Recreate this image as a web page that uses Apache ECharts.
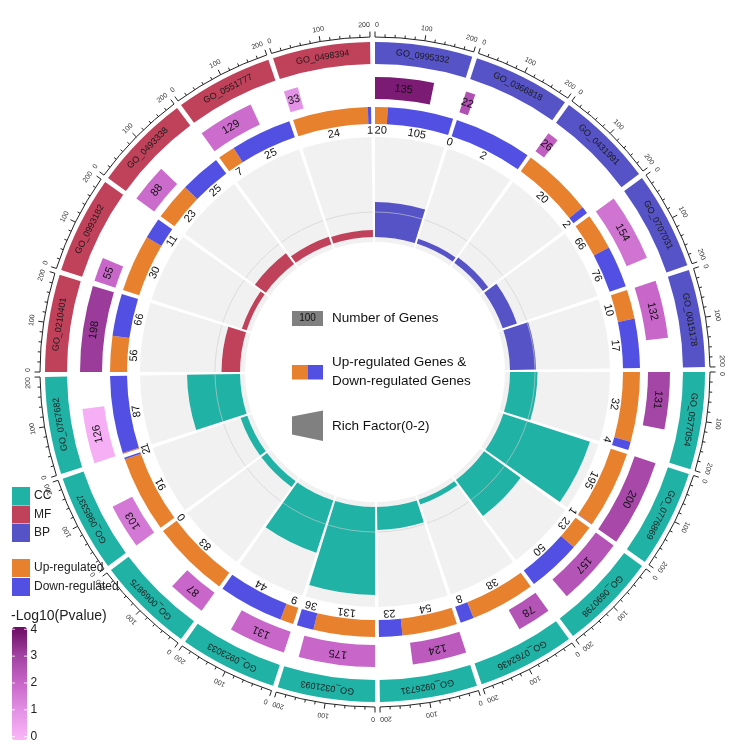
<!DOCTYPE html>
<html><head><meta charset="utf-8">
<script src="https://cdn.jsdelivr.net/npm/echarts@6/dist/echarts.min.js"></script>
<style>html,body{margin:0;padding:0;background:#fff}#c{width:750px;height:753px}</style>
</head><body><div id="c"></div>
<script>
// ---------------- data ----------------
const goTerms = ['GO_0995332','GO_0366818','GO_0431991','GO_0707031','GO_0015178',
  'GO_0577054','GO_0776869','GO_0690798','GO_0762436','GO_0926731','GO_0321093',
  'GO_0923033','GO_0069875','GO_0985337','GO_0767682',
  'GO_0210401','GO_0993182','GO_0493338','GO_0551777','GO_0498394'];
const termClass = ['BP','BP','BP','BP','BP','CC','CC','CC','CC','CC','CC','CC','CC','CC','CC','MF','MF','MF','MF','MF'];
const geneCounts = [135,22,26,154,132,131,200,157,78,124,175,131,87,103,126,198,55,88,129,33];
const negLog10P = [3.7,2.6,2.2,1.7,2.0,2.9,2.8,2.5,2.5,2.3,2.0,2.0,2.0,1.6,0.2,3.1,2.0,1.9,1.85,1.0];
const upGenes = [20,0,20,66,10,32,195,23,38,54,131,9,83,91,1,56,30,23,7,24];
const downGenes = [105,2,2,76,17,4,1,50,8,23,36,44,0,2,87,66,11,25,25,1];
const richFactor = [0.70,0.10,0.13,0.30,0.52,0.55,1.82,0.90,0.10,0.46,1.76,1.10,0.14,0.14,1.06,0.37,0.10,0.27,0.16,0.14];
const sectorTicks = [0,20,40,60,80,100,120,140,160,180,200];
const sectorTickLabels = [0,100,200];
const colorbarTicks = [0,1,2,3,4];
const classLegend = ['CC','MF','BP'];
const regLegend = ['Up-regulated','Down-regulated'];

// ---------------- style / layout ----------------
const FONT = '"Liberation Sans", Arial, sans-serif';
const CX = 375, CY = 372, SEG = 210, SPAN = 200;
const classColor = {CC:'#21b2a6', MF:'#c0415a', BP:'#5553c6'};
const UP_COLOR = '#e8812e', DOWN_COLOR = '#5150e3';
const R = {bgIn:130, bgOut:235, udLabel:241.5, udIn:248, udOut:265, numIn:273, numOut:295,
  bandIn:308, bandOut:330, axis:335, tickMajor:340.5, tickMinor:337.8, tickLabel:347};

function sectorShape(api, cs, a0, a1, rv0, rv1) {
  const cx = cs.cx, cy = cs.cy;
  const pS = api.coord([rv1, a0]);
  const pE = api.coord([rv1, a1]);
  const pI = api.coord([rv0, a0]);
  const r = Math.hypot(pS[0]-cx, pS[1]-cy);
  const r0 = Math.hypot(pI[0]-cx, pI[1]-cy);
  const sa = Math.atan2(pS[1]-cy, pS[0]-cx);
  const ea = Math.atan2(pE[1]-cy, pE[0]-cx);
  const sweep = (((ea - sa) % (2*Math.PI)) + 2*Math.PI) % (2*Math.PI);
  return {cx, cy, r0, r, startAngle: sa, endAngle: sa + sweep, clockwise: true};
}
function tangentText(cs, p, text, size, color, align) {
  const theta = Math.atan2(p[0]-cs.cx, -(p[1]-cs.cy));
  return {type:'text', x:p[0], y:p[1], rotation:-theta,
    style:{text:String(text), fontSize:size, fontFamily:FONT, fill:color,
      textAlign:align || 'center', textVerticalAlign:'middle'}};
}
const idx = goTerms.map((g,i)=>[i]);

const series = [
  { // 0 gray background of rich factor track
    type:'custom', coordinateSystem:'polar', polarIndex:0, silent:true, data: idx,
    renderItem:(params, api)=>{
      const i = api.value(0);
      return {type:'sector', shape: sectorShape(api, params.coordSys, i*SEG, i*SEG+SPAN, R.bgIn, R.bgOut),
        style:{fill:'#f1f1f1'}};
    }
  },
  { // 1 rich factor bars
    type:'custom', coordinateSystem:'polar', polarIndex:1, silent:true,
    data: richFactor.map((v,i)=>[i, v]),
    renderItem:(params, api)=>{
      const i = api.value(0), v = api.value(1);
      return {type:'sector', shape: sectorShape(api, params.coordSys, i*SEG, i*SEG+SPAN, 0, v),
        style:{fill: classColor[termClass[i]]}};
    }
  },
  { // 2 reference circle at rich factor 0.5
    type:'custom', coordinateSystem:'polar', polarIndex:1, silent:true, data: idx,
    renderItem:(params, api)=>{
      const i = api.value(0);
      const s = sectorShape(api, params.coordSys, i*SEG, i*SEG+SPAN, 0, 0.5);
      return {type:'arc', shape:{cx:s.cx, cy:s.cy, r:s.r, startAngle:s.startAngle, endAngle:s.endAngle, clockwise:true},
        style:{stroke:'rgba(205,205,205,0.75)', lineWidth:0.8, fill:null}};
    }
  },
  { // 3 up / down regulated ring
    type:'custom', coordinateSystem:'polar', polarIndex:0, silent:true,
    data: upGenes.map((u,i)=>[i, u, downGenes[i]]),
    renderItem:(params, api)=>{
      const cs = params.coordSys;
      const i = api.value(0), u = api.value(1), d = api.value(2);
      const a0 = i*SEG, a1 = i*SEG+SPAN;
      const split = a0 + SPAN*u/(u+d);
      const ch = [];
      if (u > 0) ch.push({type:'sector', shape: sectorShape(api, cs, a0, split, R.udIn, R.udOut), style:{fill:UP_COLOR}});
      if (d > 0) ch.push({type:'sector', shape: sectorShape(api, cs, split, a1, R.udIn, R.udOut), style:{fill:DOWN_COLOR}});
      ch.push(tangentText(cs, api.coord([R.udLabel, (a0+split)/2]), u, 11, '#111'));
      ch.push(tangentText(cs, api.coord([R.udLabel, (split+a1)/2]), d, 11, '#111'));
      return {type:'group', children: ch};
    }
  },
  { // 4 number of genes
    type:'custom', coordinateSystem:'polar', polarIndex:0, silent:true,
    data: geneCounts.map((n,i)=>[i, n, negLog10P[i]]),
    renderItem:(params, api)=>{
      const cs = params.coordSys;
      const i = api.value(0), n = api.value(1);
      const a0 = i*SEG, a1 = i*SEG + n;
      return {type:'group', children:[
        {type:'sector', shape: sectorShape(api, cs, a0, a1, R.numIn, R.numOut), style:{fill: api.visual('color')}},
        tangentText(cs, api.coord([(R.numIn+R.numOut)/2, (a0+a1)/2]), n, 11, '#111')
      ]};
    }
  },
  { // 5 outer class bands with GO ids
    type:'custom', coordinateSystem:'polar', polarIndex:0, silent:true, data: idx,
    renderItem:(params, api)=>{
      const cs = params.coordSys;
      const i = api.value(0);
      const a0 = i*SEG, a1 = i*SEG+SPAN;
      return {type:'group', children:[
        {type:'sector', shape: sectorShape(api, cs, a0, a1, R.bandIn, R.bandOut), style:{fill: classColor[termClass[i]]}},
        tangentText(cs, api.coord([(R.bandIn+R.bandOut)/2, (a0+a1)/2]), goTerms[i], 9, '#1a1a1a')
      ]};
    }
  },
  { // 6 sector axes
    type:'custom', coordinateSystem:'polar', polarIndex:0, silent:true, data: idx,
    renderItem:(params, api)=>{
      const cs = params.coordSys;
      const i = api.value(0);
      const a0 = i*SEG;
      const s = sectorShape(api, cs, a0, a0+SPAN, 0, R.axis);
      const ch = [{type:'arc', shape:{cx:s.cx, cy:s.cy, r:s.r, startAngle:s.startAngle, endAngle:s.endAngle, clockwise:true},
        style:{stroke:'#222', lineWidth:1, fill:null}}];
      sectorTicks.forEach(t=>{
        const major = sectorTickLabels.indexOf(t) >= 0;
        const p1 = api.coord([R.axis, a0+t]);
        const p2 = api.coord([major ? R.tickMajor : R.tickMinor, a0+t]);
        ch.push({type:'line', shape:{x1:p1[0], y1:p1[1], x2:p2[0], y2:p2[1]}, style:{stroke:'#222', lineWidth:1}});
      });
      sectorTickLabels.forEach((t,k)=>{
        const al = k === 0 ? 'left' : (k === sectorTickLabels.length-1 ? 'right' : 'center');
        ch.push(tangentText(cs, api.coord([R.tickLabel, a0+t]), t, 7, '#333', al));
      });
      return {type:'group', children: ch};
    }
  }
];

// ---------------- legends (graphic) ----------------
const graphic = [];
classLegend.forEach((c,k)=>{
  graphic.push({type:'rect', shape:{x:12, y:487+k*18.5, width:18, height:18}, style:{fill:classColor[c]}});
  graphic.push({type:'text', x:34, y:496+k*18.5, style:{text:c, fontSize:12, fontFamily:FONT, fill:'#222', textVerticalAlign:'middle'}});
});
[UP_COLOR, DOWN_COLOR].forEach((col,k)=>{
  graphic.push({type:'rect', shape:{x:12, y:559+k*19, width:18, height:18}, style:{fill:col}});
  graphic.push({type:'text', x:34, y:568+k*19, style:{text:regLegend[k], fontSize:12, fontFamily:FONT, fill:'#222', textVerticalAlign:'middle'}});
});
graphic.push({type:'text', x:11, y:616, style:{text:'-Log10(Pvalue)', fontSize:14, fontFamily:FONT, fill:'#222', textVerticalAlign:'middle'}});
colorbarTicks.forEach(v=>{
  const y = 736.7 - v*26.85;
  graphic.push({type:'text', x:30.5, y:y, z:10, style:{text:String(v), fontSize:12, fontFamily:FONT, fill:'#222', textVerticalAlign:'middle'}});
  graphic.push({type:'line', z:10, shape:{x1:12, y1:y, x2:15, y2:y}, style:{stroke:'rgba(255,255,255,0.8)', lineWidth:1}});
  graphic.push({type:'line', z:10, shape:{x1:24, y1:y, x2:27, y2:y}, style:{stroke:'rgba(255,255,255,0.8)', lineWidth:1}});
});
// center legend
graphic.push({type:'rect', shape:{x:292, y:311, width:31, height:15}, style:{fill:'#808080'}});
graphic.push({type:'text', x:307.5, y:318.5, style:{text:'100', fontSize:10, fontFamily:FONT, fill:'#111', textAlign:'center', textVerticalAlign:'middle'}});
graphic.push({type:'text', x:332, y:318, style:{text:'Number of Genes', fontSize:13.5, fontFamily:FONT, fill:'#111', textVerticalAlign:'middle'}});
graphic.push({type:'rect', shape:{x:292, y:365, width:16, height:14.5}, style:{fill:UP_COLOR}});
graphic.push({type:'rect', shape:{x:308, y:365, width:15, height:14.5}, style:{fill:DOWN_COLOR}});
graphic.push({type:'text', x:332, y:362, style:{text:'Up-regulated Genes &', fontSize:13.5, fontFamily:FONT, fill:'#111', textVerticalAlign:'middle'}});
graphic.push({type:'text', x:332, y:381.5, style:{text:'Down-regulated Genes', fontSize:13.5, fontFamily:FONT, fill:'#111', textVerticalAlign:'middle'}});
graphic.push({type:'polygon', shape:{points:[[292,416.5],[323,410.5],[323,441],[292,434.5]]}, style:{fill:'#808080'}});
graphic.push({type:'text', x:332, y:426, style:{text:'Rich Factor(0-2)', fontSize:13.5, fontFamily:FONT, fill:'#111', textVerticalAlign:'middle'}});

const hiddenAxis = {show:false, axisLine:{show:false}, axisLabel:{show:false}, axisTick:{show:false}, splitLine:{show:false}};
const option = {
  backgroundColor:'#fff',
  animation:false,
  polar:[{center:[CX, CY], radius:[0, 360]}, {center:[CX, CY], radius:[135, 235]}],
  angleAxis:[
    Object.assign({polarIndex:0, type:'value', min:0, max:SEG*goTerms.length, startAngle:90, clockwise:true}, hiddenAxis),
    Object.assign({polarIndex:1, type:'value', min:0, max:SEG*goTerms.length, startAngle:90, clockwise:true}, hiddenAxis)
  ],
  radiusAxis:[
    Object.assign({polarIndex:0, type:'value', min:0, max:360}, hiddenAxis),
    Object.assign({polarIndex:1, type:'value', min:0, max:2}, hiddenAxis)
  ],
  visualMap:[{type:'continuous', seriesIndex:4, dimension:2, min:0, max:4, calculable:false,
    left:12, top:627, itemWidth:15, itemHeight:113, padding:0, hoverLink:false,
    inRange:{color:['#fbb6f8','#e393e5','#c866c9','#a042a2','#6c0b60']}}],
  graphic: graphic,
  series: series
};
const chart = echarts.init(document.getElementById('c'));
chart.setOption(option);
</script></body></html>
